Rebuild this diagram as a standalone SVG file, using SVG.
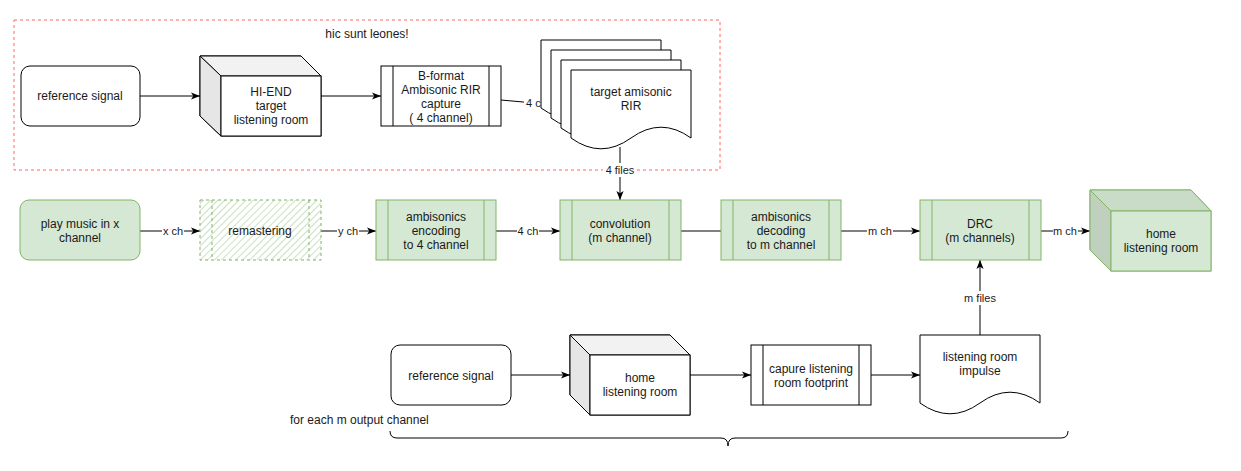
<svg xmlns="http://www.w3.org/2000/svg" width="1241" height="471" viewBox="0 0 1241 471">
<defs>
<marker id="arr" viewBox="0 0 10 8" refX="10" refY="4" markerWidth="9" markerHeight="7.2" markerUnits="userSpaceOnUse" orient="auto">
<path d="M0,0 L10,4 L0,8 L2.5,4 Z" fill="#000"/>
</marker>
<pattern id="hatch" width="5" height="5" patternUnits="userSpaceOnUse" patternTransform="rotate(45)">
<rect width="5" height="5" fill="#ffffff"/>
<line x1="0" y1="0" x2="0" y2="5" stroke="#b9d6ad" stroke-width="1.5"/>
</pattern>
</defs>
<style>
text{font-family:"Liberation Sans",Arial,sans-serif;font-size:12px;fill:#1a1a1a;text-anchor:middle;dominant-baseline:central}
.lbl{font-size:11px}
.w{fill:#ffffff;stroke:#000;stroke-width:1}
.g{fill:#d5e8d4;stroke:#82b366;stroke-width:1}
.e{fill:none;stroke:#000;stroke-width:1}
.a{fill:none;stroke:#000;stroke-width:1;marker-end:url(#arr)}
.bg{fill:#ffffff}
</style>
<rect width="1241" height="471" fill="#ffffff"/>

<g id="region">
<rect x="14" y="20" width="706" height="150" fill="none" stroke="#ff6666" stroke-width="1" stroke-dasharray="3,3"/>
<text x="367" y="34">hic sunt leones!</text>
</g>

<g id="connectors">
<line class="a" x1="140" y1="96" x2="200" y2="96"/>
<line class="a" x1="321" y1="96" x2="381" y2="96"/>
<line class="e" x1="501" y1="100" x2="545" y2="104"/>
<line class="a" x1="620" y1="147" x2="620" y2="200"/>
<line class="a" x1="140" y1="231" x2="200" y2="231"/>
<line class="a" x1="321" y1="231" x2="376" y2="231"/>
<line class="a" x1="496" y1="231" x2="560" y2="231"/>
<line class="e" x1="681" y1="231" x2="721" y2="231"/>
<line class="a" x1="841" y1="231" x2="920" y2="231"/>
<line class="a" x1="1041" y1="231" x2="1090" y2="231"/>
<line class="a" x1="511" y1="375" x2="570" y2="375"/>
<line class="a" x1="690" y1="375" x2="751" y2="375"/>
<line class="a" x1="871" y1="375" x2="920" y2="375"/>
<line class="a" x1="980" y1="335" x2="980" y2="260"/>
<rect class="bg" x="162" y="224" width="22" height="14"/><text class="lbl" x="173" y="231">x ch</text>
<rect class="bg" x="337" y="224" width="22" height="14"/><text class="lbl" x="348" y="231">y ch</text>
<rect class="bg" x="517" y="224" width="22" height="14"/><text class="lbl" x="528" y="231">4 ch</text>
<rect class="bg" x="867" y="224" width="26" height="14"/><text class="lbl" x="880" y="231">m ch</text>
<rect class="bg" x="1053" y="224" width="25" height="14"/><text class="lbl" x="1065" y="231">m ch</text>
<rect class="bg" x="603" y="163" width="34" height="14"/><text class="lbl" x="620" y="170">4 files</text>
<rect class="bg" x="962" y="291" width="36" height="14"/><text class="lbl" x="980" y="298">m files</text>
<rect class="bg" x="524" y="96" width="17" height="14"/><text class="lbl" x="526" y="103" style="text-anchor:start">4 c</text>
</g>

<g id="ref-signal-top">
<rect class="w" x="21" y="66" width="119" height="60" rx="9"/>
<text x="80" y="96">reference signal</text>
</g>

<g id="hiend-room">
<path d="M200,56 L301,56 L321,76 L321,136 L221,136 L200,116 Z" fill="#fff" stroke="#000"/>
<path d="M200,56 L301,56 L321,76 L221,76 Z" fill="#f2f2f2" stroke="#000"/>
<path d="M200,56 L221,76 L221,136 L200,116 Z" fill="#e6e6e6" stroke="#000"/>
<rect class="w" x="221" y="76" width="100" height="60"/>
<text x="271" y="92">HI-END</text>
<text x="271" y="106">target</text>
<text x="271" y="120">listening room</text>
</g>

<g id="bformat">
<rect class="w" x="381" y="66" width="120" height="60"/>
<line class="e" x1="393" y1="66" x2="393" y2="126"/>
<line class="e" x1="489" y1="66" x2="489" y2="126"/>
<text x="441" y="76">B-format</text>
<text x="441" y="90">Ambisonic RIR</text>
<text x="441" y="104">capture</text>
<text x="441" y="118">( 4 channel)</text>
</g>

<g id="target-rir">
<path class="w" d="M541,40 H661 V108 Q631,86.4 601,108 Q571,129.6 541,108 Z"/>
<path class="w" d="M551,50 H671 V118 Q641,96.4 611,118 Q581,139.6 551,118 Z"/>
<path class="w" d="M561,60 H681 V128 Q651,106.4 621,128 Q591,149.6 561,128 Z"/>
<path class="w" d="M571,70 H691 V138 Q661,116.4 631,138 Q601,159.6 571,138 Z"/>
<text x="631" y="92">target amisonic</text>
<text x="631" y="106">RIR</text>
</g>

<g id="play-music">
<rect class="g" x="20" y="200" width="120" height="60" rx="9"/>
<text x="80" y="224">play music in x</text>
<text x="80" y="238">channel</text>
</g>

<g id="remastering">
<rect x="200" y="200" width="121" height="60" fill="url(#hatch)" stroke="#82b366" stroke-dasharray="3,3"/>
<line x1="212" y1="200" x2="212" y2="260" stroke="#82b366" stroke-dasharray="3,3"/>
<line x1="309" y1="200" x2="309" y2="260" stroke="#82b366" stroke-dasharray="3,3"/>
<text x="260" y="231">remastering</text>
</g>

<g id="amb-encoding">
<rect class="g" x="376" y="200" width="120" height="60"/>
<line x1="388" y1="200" x2="388" y2="260" stroke="#82b366"/>
<line x1="484" y1="200" x2="484" y2="260" stroke="#82b366"/>
<text x="436" y="217">ambisonics</text>
<text x="436" y="231">encoding</text>
<text x="436" y="245">to 4 channel</text>
</g>

<g id="convolution">
<rect class="g" x="560" y="200" width="121" height="60"/>
<line x1="572" y1="200" x2="572" y2="260" stroke="#82b366"/>
<line x1="669" y1="200" x2="669" y2="260" stroke="#82b366"/>
<text x="620" y="224">convolution</text>
<text x="620" y="238">(m channel)</text>
</g>

<g id="amb-decoding">
<rect class="g" x="721" y="200" width="120" height="60"/>
<line x1="733" y1="200" x2="733" y2="260" stroke="#82b366"/>
<line x1="829" y1="200" x2="829" y2="260" stroke="#82b366"/>
<text x="781" y="217">ambisonics</text>
<text x="781" y="231">decoding</text>
<text x="781" y="245">to m channel</text>
</g>

<g id="drc">
<rect class="g" x="920" y="200" width="121" height="60"/>
<line x1="932" y1="200" x2="932" y2="260" stroke="#82b366"/>
<line x1="1029" y1="200" x2="1029" y2="260" stroke="#82b366"/>
<text x="980" y="224">DRC</text>
<text x="980" y="238">(m channels)</text>
</g>

<g id="home-room-green">
<path d="M1090,190 L1191,190 L1211,211 L1211,271 L1111,271 L1090,250 Z" fill="#d5e8d4" stroke="#82b366"/>
<path d="M1090,190 L1191,190 L1211,211 L1111,211 Z" fill="#c9dcc8" stroke="#82b366"/>
<path d="M1090,190 L1111,211 L1111,271 L1090,250 Z" fill="#bfd1be" stroke="#82b366"/>
<rect class="g" x="1111" y="211" width="100" height="60"/>
<text x="1161" y="234">home</text>
<text x="1161" y="248">listening room</text>
</g>

<g id="ref-signal-bottom">
<rect class="w" x="391" y="345" width="120" height="60" rx="9"/>
<text x="451" y="376">reference signal</text>
</g>

<g id="home-room">
<path d="M570,335 L670,335 L690,355 L690,415 L590,415 L570,395 Z" fill="#fff" stroke="#000"/>
<path d="M570,335 L670,335 L690,355 L590,355 Z" fill="#f2f2f2" stroke="#000"/>
<path d="M570,335 L590,355 L590,415 L570,395 Z" fill="#e6e6e6" stroke="#000"/>
<rect class="w" x="590" y="355" width="100" height="60"/>
<text x="640" y="378">home</text>
<text x="640" y="392">listening room</text>
</g>

<g id="capture">
<rect class="w" x="751" y="345" width="120" height="60"/>
<line class="e" x1="763" y1="345" x2="763" y2="405"/>
<line class="e" x1="859" y1="345" x2="859" y2="405"/>
<text x="811" y="369">capure listening</text>
<text x="811" y="383">room footprint</text>
</g>

<g id="room-impulse">
<path class="w" d="M920,335 H1040 V403 Q1010,381.4 980,403 Q950,424.6 920,403 Z"/>
<text x="980" y="357">listening room</text>
<text x="980" y="371">impulse</text>
</g>

<g id="brace">
<text x="290" y="420" style="text-anchor:start">for each m output channel</text>
<path d="M390,431 Q390,438 397,438 L721,438 Q728,438 728,446 Q728,438 735,438 L1061,438 Q1068,438 1068,431" fill="none" stroke="#000"/>
</g>
</svg>
